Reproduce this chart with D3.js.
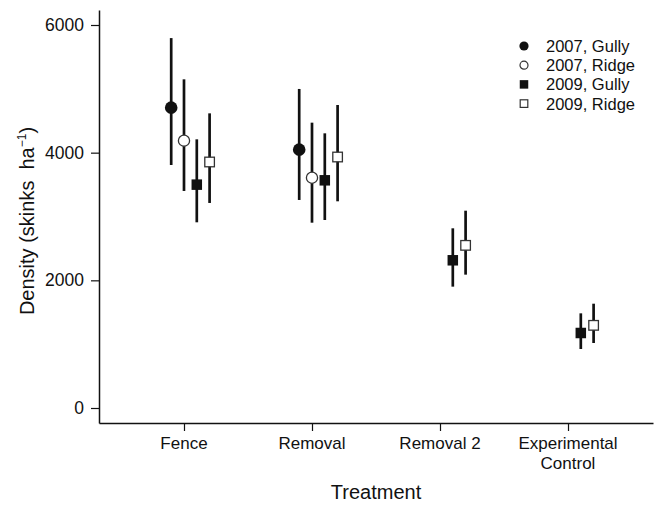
<!DOCTYPE html>
<html>
<head>
<meta charset="utf-8">
<script src="https://cdn.jsdelivr.net/npm/d3@7"></script>
<style>
  html, body { margin: 0; padding: 0; background: #fff; }
  svg { display: block; font-family: "Liberation Sans", Arial, sans-serif; }
</style>
</head>
<body>
<div id="chart"></div>
<script>
// 類別與數據
const categories = ['Fence', 'Removal', 'Removal 2', 'Experimental Control']
const seriesNames = ['2007, Gully', '2007, Ridge', '2009, Gully', '2009, Ridge']
const seriesShapes = ['circle', 'circle', 'square', 'square']
const seriesFilled = [true, false, true, false]

const mean2007Gully = [4705, 4047, null, null]
const low2007Gully = [3807, 3259, null, null]
const high2007Gully = [5795, 4998, null, null]

const mean2007Ridge = [4188, 3608, null, null]
const low2007Ridge = [3400, 2903, null, null]
const high2007Ridge = [5149, 4470, null, null]

const mean2009Gully = [3499, 3567, 2314, 1175]
const low2009Gully = [2909, 2945, 1901, 924]
const high2009Gully = [4209, 4303, 2815, 1483]

const mean2009Ridge = [3854, 3932, 2548, 1295]
const low2009Ridge = [3212, 3238, 2089, 1018]
const high2009Ridge = [4616, 4747, 3091, 1634]

const yTicks = [0, 2000, 4000, 6000]

const means = [mean2007Gully, mean2007Ridge, mean2009Gully, mean2009Ridge]
const lows = [low2007Gully, low2007Ridge, low2009Gully, low2009Ridge]
const highs = [high2007Gully, high2007Ridge, high2009Gully, high2009Ridge]
const dodge = [-0.1, 0, 0.1, 0.2]

const width = 661
const height = 505
const ink = '#111'

const svg = d3.select('#chart').append('svg').attr('width', width).attr('height', height)

const x = d3.scaleLinear().domain([0.336, 4.664]).range([99, 653])
const y = d3.scaleLinear().domain([-235, 6235]).range([423, 10])

// y 軸
const yAxis = svg.append('g')
  .attr('transform', 'translate(99,0)')
  .call(d3.axisLeft(y).tickValues(yTicks).tickFormat(d3.format('d')).tickSize(8).tickSizeOuter(0).tickPadding(7))
yAxis.select('.domain').attr('stroke', ink).attr('stroke-width', 1.5)
yAxis.selectAll('.tick line').attr('stroke', ink).attr('stroke-width', 1.2)
yAxis.selectAll('.tick text').attr('fill', ink).style('font-size', '17.5px').style('font-family', '"Liberation Sans", Arial, sans-serif')

// x 軸
const xAxis = svg.append('g')
  .attr('transform', 'translate(0,423)')
  .call(d3.axisBottom(x).tickValues([1, 2, 3, 4]).tickFormat(() => '').tickSize(8).tickSizeOuter(0))
xAxis.select('.domain').attr('stroke', ink).attr('stroke-width', 1.5)
xAxis.selectAll('.tick line').attr('stroke', ink).attr('stroke-width', 1.2)

// 類別標籤(可換行)
categories.forEach((c, i) => {
  const words = c === 'Experimental Control' ? ['Experimental', 'Control'] : [c]
  const t = svg.append('text')
    .attr('text-anchor', 'middle')
    .attr('fill', ink)
    .style('font-size', '17px')
  words.forEach((w, j) => {
    t.append('tspan').attr('x', x(i + 1)).attr('y', 449 + j * 19.5).text(w)
  })
})

// 軸標題
svg.append('text')
  .attr('x', 376).attr('y', 499)
  .attr('text-anchor', 'middle')
  .attr('fill', ink)
  .style('font-size', '20px')
  .text('Treatment')

const yTitle = svg.append('text')
  .attr('transform', 'translate(34,221) rotate(-90)')
  .attr('text-anchor', 'middle')
  .attr('fill', ink)
  .style('font-size', '20px')
  .style('white-space', 'pre')
yTitle.append('tspan').text('Density (skinks  ha')
yTitle.append('tspan').attr('dy', -8).style('font-size', '12px').text('\u22121')
yTitle.append('tspan').attr('dy', 8).text(')')

// 誤差線與點
const plot = svg.append('g')
means.forEach((vals, s) => {
  const pts = vals.map((v, i) => ({ v, lo: lows[s][i], hi: highs[s][i], xi: i + 1 + dodge[s] }))
    .filter(d => d.v !== null)
  const g = plot.append('g')
  g.selectAll('line')
    .data(pts)
    .join('line')
    .attr('x1', d => x(d.xi)).attr('x2', d => x(d.xi))
    .attr('y1', d => y(d.lo)).attr('y2', d => y(d.hi))
    .attr('stroke', ink)
    .attr('stroke-width', 2.7)
  if (seriesShapes[s] === 'circle') {
    g.selectAll('circle')
      .data(pts)
      .join('circle')
      .attr('cx', d => x(d.xi)).attr('cy', d => y(d.v))
      .attr('r', seriesFilled[s] ? 6.3 : 5.6)
      .attr('fill', seriesFilled[s] ? ink : '#fff')
      .attr('stroke', seriesFilled[s] ? 'none' : '#333')
      .attr('stroke-width', 1.3)
  } else {
    const side = seriesFilled[s] ? 10.5 : 9.6
    g.selectAll('rect')
      .data(pts)
      .join('rect')
      .attr('x', d => x(d.xi) - side / 2).attr('y', d => y(d.v) - side / 2)
      .attr('width', side).attr('height', side)
      .attr('fill', seriesFilled[s] ? ink : '#fff')
      .attr('stroke', seriesFilled[s] ? 'none' : '#333')
      .attr('stroke-width', 1.3)
  }
})

// 圖例
const legend = svg.append('g').attr('transform', 'translate(524,0)')
seriesNames.forEach((name, i) => {
  const cy = 46 + i * 19.2
  const row = legend.append('g')
  if (seriesShapes[i] === 'circle') {
    row.append('circle')
      .attr('cx', 0).attr('cy', cy)
      .attr('r', seriesFilled[i] ? 4.6 : 4)
      .attr('fill', seriesFilled[i] ? ink : '#fff')
      .attr('stroke', seriesFilled[i] ? 'none' : '#333')
      .attr('stroke-width', 1.2)
  } else {
    const side = seriesFilled[i] ? 8.5 : 7.6
    row.append('rect')
      .attr('x', -side / 2).attr('y', cy - side / 2)
      .attr('width', side).attr('height', side)
      .attr('fill', seriesFilled[i] ? ink : '#fff')
      .attr('stroke', seriesFilled[i] ? 'none' : '#333')
      .attr('stroke-width', 1.2)
  }
  row.append('text')
    .attr('x', 22).attr('y', cy + 6)
    .attr('fill', ink)
    .style('font-size', '16.5px')
    .text(name)
})
</script>
</body>
</html>
